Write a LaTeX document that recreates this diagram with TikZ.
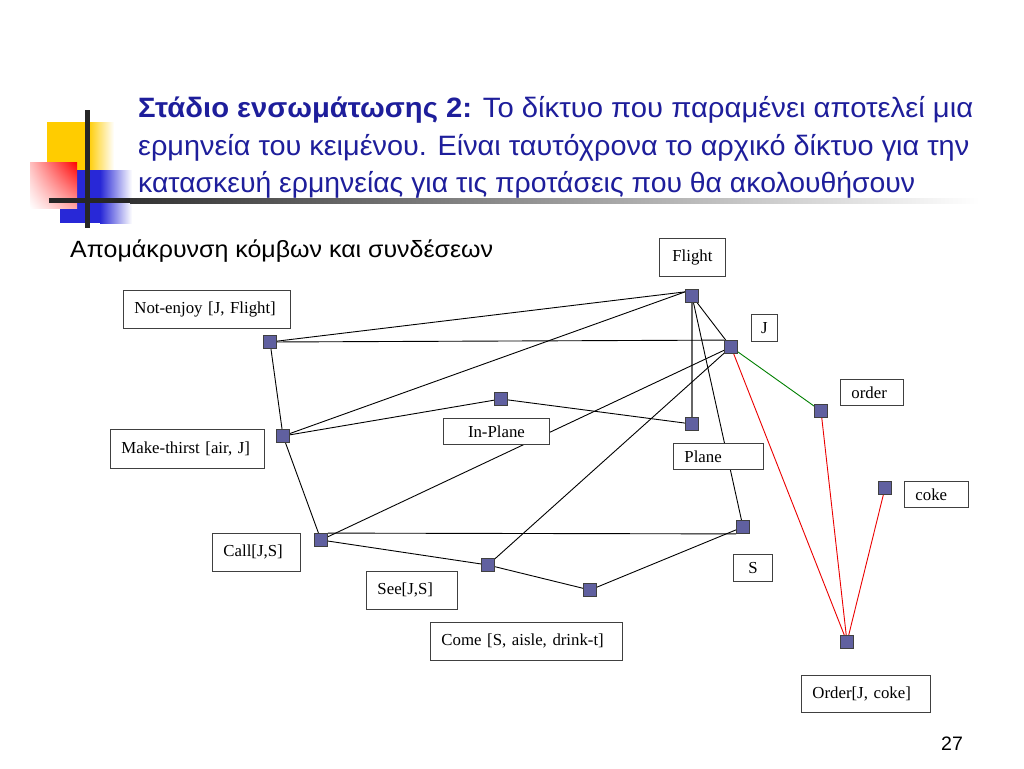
\documentclass[tikz,border=0pt]{standalone}
\usepackage{fontspec}
\usepackage{graphicx}
\setmainfont{Liberation Serif}
\newfontfamily\grk{Liberation Sans}
\usetikzlibrary{backgrounds,shadings,calc}
\definecolor{titleblue}{RGB}{30,30,155}
\definecolor{sqfill}{RGB}{96,96,160}
\definecolor{edgegreen}{RGB}{0,128,0}
\definecolor{edgered}{RGB}{235,0,0}
\definecolor{decoyellow}{RGB}{255,204,0}
\definecolor{decored}{RGB}{255,0,0}
\definecolor{decoblue}{RGB}{40,40,215}
\begin{document}
\begin{tikzpicture}[x=1pt,y=-1pt,
  sq/.style={draw=black!75, fill=sqfill, line width=0.8pt, minimum size=13pt, inner sep=0pt},
  lbox/.style={draw=black!75, fill=white, line width=0.9pt, inner xsep=11pt, inner ysep=0pt, align=left, anchor=north west, font=\fontsize{16.8}{18}\selectfont},
  cbox/.style={draw=black!75, fill=white, line width=0.9pt, inner sep=0pt, anchor=north west, font=\fontsize{16.8}{18}\selectfont},
  edge/.style={draw=black, line width=0.9pt},
  thickedge/.style={draw=black!60, line width=2.2pt},
  gedge/.style={draw=edgegreen, line width=0.9pt},
  redge/.style={draw=edgered, line width=0.9pt}
]
\useasboundingbox (0,0) rectangle (1024,768);
\begin{pgfonlayer}{background}
\fill[white] (0,0) rectangle (1024,768);
\end{pgfonlayer}

% decoration
\fill[decoyellow] (47,122) rectangle (88,170);
\shade[left color=decoyellow, right color=white] (88,122) rectangle (114,170);
\fill[decoblue] (60,170) rectangle (100,223);
\shade[left color=decoblue, right color=white] (100,170) rectangle (132,223);
\shade[upper left=decored!25, upper right=decored, lower left=white, lower right=decored!35] (30,162) rectangle (77,208);
\fill[black!85] (85,110) rectangle (89.5,228);
\fill[black!85] (49,198) rectangle (130,203);
\shade[left color=black!80, right color=white] (130,198) rectangle (980,203);

% title
\node[anchor=base west, inner sep=0pt, text=titleblue] (t1) at (138,117) {\resizebox{835pt}{\height}{\grk\fontsize{28}{32}\selectfont\textbf{Στάδιο ενσωμάτωσης 2:} Το δίκτυο που παραμένει αποτελεί μια}};
\node[anchor=base west, inner sep=0pt, text=titleblue] (t2) at (138,155) {\resizebox{831pt}{\height}{\grk\fontsize{28}{32}\selectfont ερμηνεία του κειμένου. Είναι ταυτόχρονα το αρχικό δίκτυο για την}};
\node[anchor=base west, inner sep=0pt, text=titleblue] (t3) at (138,192) {\resizebox{777pt}{\height}{\grk\fontsize{28}{32}\selectfont κατασκευή ερμηνείας για τις προτάσεις που θα ακολουθήσουν}};
\node[anchor=base west, inner sep=0pt] (sub) at (70,257) {\resizebox{423pt}{\height}{\grk\fontsize{23.5}{27}\selectfont Απομάκρυνση κόμβων και συνδέσεων}};
\node[anchor=base west, inner sep=0pt] (pg) at (941,750) {\grk\fontsize{19.5}{22}\selectfont 27};

% label boxes
\node[cbox, minimum width=66pt, minimum height=38pt] (lFlight) at (659,238) {Flight};
\node[lbox, text width=145pt, minimum height=38pt] (lNE) at (123,290) {Not-enjoy [J, Flight]};
\node[cbox, minimum width=26pt, minimum height=27pt] (lJ) at (751,314) {J};
\node[lbox, text width=41pt, minimum height=26pt] (lorder) at (840,379) {order};
\node[cbox, minimum width=106pt, minimum height=26pt] (lIP) at (443,418) {In-Plane};
\node[lbox, text width=132pt, minimum height=39pt] (lMT) at (110,429) {Make-thirst [air, J]};
\node[lbox, text width=68pt, minimum height=26pt] (lPlane) at (673,443) {Plane};
\node[lbox, text width=42pt, minimum height=26pt] (lcoke) at (904,481) {coke};
\node[lbox, text width=66pt, minimum height=38pt] (lCall) at (212,533) {Call[J,S]};
\node[cbox, minimum width=39pt, minimum height=27pt] (lS) at (733,554) {S};
\node[lbox, text width=69pt, minimum height=38pt] (lSee) at (366,571) {See[J,S]};
\node[lbox, text width=170pt, minimum height=38pt] (lCome) at (430,622) {Come [S, aisle, drink-t]};
\node[lbox, text width=107pt, minimum height=37pt] (lOrder) at (801,675) {Order[J, coke]};

% squares
\node[sq] (ne) at (270,342) {};
\node[sq] (mt) at (283,436) {};
\node[sq] (fl) at (692,296) {};
\node[sq] (jj) at (731,347) {};
\node[sq] (ip) at (501,399) {};
\node[sq] (pl) at (692,424) {};
\node[sq] (od) at (821,411) {};
\node[sq] (ck) at (885,488) {};
\node[sq] (ca) at (321,540) {};
\node[sq] (ss) at (743,527) {};
\node[sq] (se) at (488,565) {};
\node[sq] (co) at (590,590) {};
\node[sq] (or) at (847,642) {};

% connectors
\begin{pgfonlayer}{background}
\coordinate (flin) at ($(fl.north west)!0.2!(fl.south west)$);
\draw[thickedge] (fl.center) -- (pl.center);
\draw[edge] (ne.center) -- (flin);
\draw[edge] (ne.center) -- (jj.north west);
\draw[edge] (ne.center) -- (mt.center);
\draw[edge] (mt.center) -- (flin);
\draw[edge] (mt.center) -- (ip.center);
\draw[edge] (ip.center) -- (pl.center);
\draw[edge] (fl.center) -- (jj.center);
\draw[edge] (fl.center) -- (ss.center);
\draw[edge] (jj.center) -- (ca.center);
\draw[edge] (jj.center) -- (se.center);
\draw[edge] (mt.center) -- (ca.center);
\draw[edge] (ca.north east) -- (ss.south west);
\draw[edge] (ca.center) -- (se.center);
\draw[edge] (se.center) -- (co.center);
\draw[edge] (co.center) -- (ss.center);
\draw[gedge] (jj.center) -- (od.center);
\draw[redge] (jj.center) -- (or.center);
\draw[redge] (od.center) -- (or.center);
\draw[redge] (ck.center) -- (or.center);
\end{pgfonlayer}
\end{tikzpicture}
\end{document}
